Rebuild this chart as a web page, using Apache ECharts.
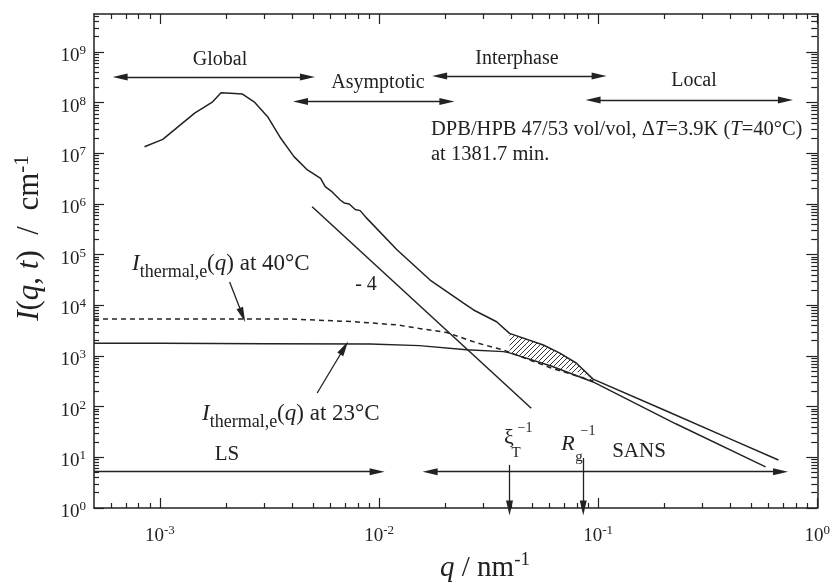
<!DOCTYPE html>
<html>
<head>
<meta charset="utf-8">
<script src="https://cdn.jsdelivr.net/npm/echarts@6/dist/echarts.min.js"></script>
<style>
  html, body { margin: 0; padding: 0; background: #fff; }
  #chart { width: 833px; height: 588px; }
</style>
</head>
<body>
<div id="chart"></div>
<script>
// time-resolved scattering curve (q in nm^-1, I in cm^-1)
const mainQ = [8.5e-4, 1.03e-3, 1.44e-3, 1.74e-3, 1.9e-3, 2.1e-3, 2.38e-3, 2.69e-3, 3.1e-3, 3.56e-3, 4.09e-3, 4.71e-3, 5.41e-3, 5.68e-3, 6.11e-3, 6.65e-3, 6.93e-3, 7.31e-3, 7.78e-3, 8.2e-3, 8.8e-3, 1.21e-2, 1.71e-2, 2.43e-2, 2.7e-2, 3.44e-2, 3.94e-2, 5.62e-2, 6.65e-2, 7.94e-2, 9.48e-2, 0.2, 0.4, 0.665]
const mainI = [1.35e7, 1.89e7, 6.2e7, 1.04e8, 1.57e8, 1.53e8, 1.48e8, 1.04e8, 5.3e7, 1.98e7, 8.6e6, 4.7e6, 3.2e6, 2.2e6, 1.73e6, 1.2e6, 1.05e6, 1.0e6, 7.8e5, 7.4e5, 5.2e5, 1.24e5, 3.16e4, 1.1e4, 8.1e3, 4.75e3, 2.8e3, 1.65e3, 1.15e3, 727, 350, 86, 23.2, 8.85]

// I_thermal,e(q) at 23 C (solid) and 40 C (dashed)
const t23Q = [5e-4, 1e-3, 3e-3, 9.1e-3, 1.53e-2, 2.5e-2, 3.7e-2, 3.94e-2, 6.1e-2, 9.48e-2, 0.226, 0.581]
const t23I = [1.78e3, 1.78e3, 1.75e3, 1.73e3, 1.6e3, 1.33e3, 1.22e3, 1.15e3, 634, 307, 46, 6.45]
const t40Q = [5e-4, 3.82e-3, 7.7e-3, 1.21e-2, 1.53e-2, 2.04e-2, 2.79e-2, 3.7e-2, 6.1e-2, 9.5e-2]
const t40I = [5.4e3, 5.4e3, 4.75e3, 4.1e3, 3.5e3, 2.9e3, 1.82e3, 1.31e3, 580, 321]
const dotQ = [4.71e-2, 5.23e-2, 5.81e-2, 6.44e-2, 7.16e-2, 7.94e-2, 8.81e-2]
const dotI = [834, 728, 634, 553, 483, 422, 368]

// q^-4 guide line
const slopeQ = [4.95e-3, 4.95e-2]
const slopeI = [8.83e5, 93]

// hatched band between the curve and I_thermal(23 C)
const hatchFrom = 3.94e-2
const hatchTo = 9.48e-2

// arrows: start / end points and which ends carry a head
const arrowQ1 = [6.58e-4, 4.38e-3, 1.89e-2, 9.48e-2, 5e-4, 1.71e-2, 3.94e-2, 8.55e-2, 2.08e-3, 5.22e-3]
const arrowI1 = [3.2e8, 1.05e8, 3.36e8, 1.13e8, 5.2, 5.2, 7.1, 9.7, 2.88e4, 186]
const arrowQ2 = [4.71e-3, 2.04e-2, 0.101, 0.716, 9.8e-3, 0.68, 3.94e-2, 8.55e-2, 2.38e-3, 6.93e-3]
const arrowI2 = [3.2e8, 1.05e8, 3.36e8, 1.13e8, 5.2, 5.2, 1, 1, 6.44e3, 1.44e3]
const arrowHeads = ['both', 'both', 'both', 'both', 'end', 'both', 'end', 'end', 'end', 'end']

const xMajor = [-3, -2, -1, 0]
const yMajor = [0, 1, 2, 3, 4, 5, 6, 7, 8, 9]

const lg = v => Math.log10(v)
const pairs = (qs, is) => qs.map((q, i) => [lg(q), lg(is[i])])

const xMin = lg(5e-4)
const yMax = 9.75
const xMinor = []
for (let d = -4; d < 0; d++) {
    for (let k = 2; k <= 9; k++) {
        const v = lg(k) + d
        if (v > xMin + 1e-6 && v < 0) xMinor.push(v)
    }
}
const yMinor = []
for (let d = 0; d < 10; d++) {
    for (let k = 2; k <= 9; k++) {
        const v = lg(k) + d
        if (v < yMax) yMinor.push(v)
    }
}

const FONT = 'Liberation Serif'
const INK = '#222'

// hatch pattern
const pat = document.createElement('canvas')
pat.width = 5
pat.height = 5
const pctx = pat.getContext('2d')
pctx.strokeStyle = '#333'
pctx.lineWidth = 1
pctx.beginPath()
pctx.moveTo(-1, 6); pctx.lineTo(6, -1)
pctx.moveTo(-1, 1); pctx.lineTo(1, -1)
pctx.moveTo(4, 6); pctx.lineTo(6, 4)
pctx.stroke()

const supRich = {
    b: {fontFamily: FONT, fontSize: 19, lineHeight: 24, color: INK},
    s: {fontFamily: FONT, fontSize: 13, lineHeight: 13, verticalAlign: 'top', color: INK}
}

function makeAxis(dim, pos, values, len, labels) {
    const ax = {
        type: 'value',
        position: pos,
        min: dim === 'x' ? xMin : 0,
        max: dim === 'x' ? 0 : yMax,
        axisLine: {show: labels !== null, onZero: false, lineStyle: {color: INK, width: 1.5}},
        axisTick: {show: true, inside: true, length: len, customValues: values, lineStyle: {color: INK, width: 1.2}},
        splitLine: {show: false},
        axisLabel: {show: false}
    }
    if (labels) {
        ax.axisLabel = {
            show: true,
            customValues: values,
            margin: dim === 'x' ? 16 : 8,
            verticalAlign: dim === 'x' ? 'top' : 'middle',
            padding: dim === 'x' ? 0 : [8, 0, 0, 0],
            formatter: v => '{b|10}{s|' + v + '}',
            rich: supRich
        }
    }
    return ax
}

const arrowData = arrowQ1.map((q, i) => [
    {coord: [lg(q), lg(arrowI1[i])], symbol: arrowHeads[i] === 'both' ? 'triangle' : 'none', symbolSize: [7, 15]},
    {coord: [lg(arrowQ2[i]), lg(arrowI2[i])], symbol: 'triangle', symbolSize: [7, 15]}
])

function renderHatch(params, api) {
    const top = pairs(mainQ, mainI).filter((p, i) => mainQ[i] >= hatchFrom && mainQ[i] <= hatchTo)
    const bottom = pairs(t23Q, t23I).filter((p, i) => t23Q[i] >= hatchFrom && t23Q[i] <= hatchTo).reverse()
    const points = top.concat(bottom).map(p => api.coord(p))
    return {
        type: 'polygon',
        shape: {points: points},
        style: {fill: {image: pat, repeat: 'repeat'}, stroke: null}
    }
}

function txt(x, y, text, size, align, rich, rotation) {
    const el = {
        type: 'text',
        x: x,
        y: y,
        style: {
            text: text,
            fontFamily: FONT,
            fontSize: size,
            fill: INK,
            align: align,
            textAlign: align,
            verticalAlign: 'middle',
            textVerticalAlign: 'middle'
        }
    }
    if (rich) el.style.rich = rich
    if (rotation) el.rotation = rotation
    return el
}

const labelRich = {
    i: {fontFamily: FONT, fontSize: 23, fontStyle: 'italic', color: INK},
    n: {fontFamily: FONT, fontSize: 23, color: INK},
    sub: {fontFamily: FONT, fontSize: 18, color: INK, verticalAlign: 'bottom', lineHeight: 35}
}
const titleRich = {
    i: {fontFamily: FONT, fontSize: 29, fontStyle: 'italic', color: INK, lineHeight: 34},
    n: {fontFamily: FONT, fontSize: 29, color: INK, lineHeight: 34},
    sup: {fontFamily: FONT, fontSize: 19, color: INK, verticalAlign: 'top', lineHeight: 19}
}
const yTitleRich = {
    i: {fontFamily: FONT, fontSize: 31, fontStyle: 'italic', color: INK, lineHeight: 36},
    n: {fontFamily: FONT, fontSize: 31, color: INK, lineHeight: 36},
    sup: {fontFamily: FONT, fontSize: 21, color: INK, verticalAlign: 'top', lineHeight: 21}
}
const noteRich = {
    i: {fontFamily: FONT, fontSize: 20.5, fontStyle: 'italic', color: INK},
    n: {fontFamily: FONT, fontSize: 20.5, color: INK}
}
const ital = {
    i: {fontFamily: FONT, fontSize: 22, fontStyle: 'italic', color: INK}
}

const chart = echarts.init(document.getElementById('chart'))
chart.setOption({
    animation: false,
    backgroundColor: '#fff',
    grid: {left: 94, right: 12, top: 14, bottom: 80},
    xAxis: [
        makeAxis('x', 'bottom', xMajor, 10, true),
        makeAxis('x', 'bottom', xMinor, 5, null),
        makeAxis('x', 'top', xMajor, 10, false),
        makeAxis('x', 'top', xMinor, 5, null)
    ],
    yAxis: [
        makeAxis('y', 'left', yMajor, 10, true),
        makeAxis('y', 'left', yMinor, 5, null),
        makeAxis('y', 'right', yMajor, 11, false),
        makeAxis('y', 'right', yMinor, 6, null)
    ],
    series: [
        {
            name: 'I(q,t)', type: 'line', data: pairs(mainQ, mainI),
            showSymbol: false, lineStyle: {color: INK, width: 1.5}
        },
        {
            name: 'thermal 23', type: 'line', data: pairs(t23Q, t23I),
            showSymbol: false, lineStyle: {color: INK, width: 1.4}
        },
        {
            name: 'thermal 40', type: 'line', data: pairs(t40Q, t40I),
            showSymbol: false, lineStyle: {color: INK, width: 1.5, type: [5, 4]}
        },
        {
            name: 'dots', type: 'scatter', data: pairs(dotQ, dotI),
            symbol: 'emptyCircle', symbolSize: 5,
            itemStyle: {color: '#fff', borderColor: INK, borderWidth: 1.2}
        },
        {
            name: 'hatch', type: 'custom', data: [[0, 0]],
            renderItem: renderHatch, z: 1
        },
        {
            name: 'slope', type: 'line', data: pairs(slopeQ, slopeI),
            showSymbol: false, lineStyle: {color: INK, width: 1.5},
            markLine: {
                silent: true,
                animation: false,
                lineStyle: {color: INK, width: 1.3, type: 'solid'},
                label: {show: false},
                data: arrowData
            }
        }
    ],
    graphic: [
        txt(220, 60, 'Global', 20, 'center'),
        txt(378, 83, 'Asymptotic', 20, 'center'),
        txt(517, 59, 'Interphase', 20, 'center'),
        txt(694, 81, 'Local', 20, 'center'),
        txt(227, 454, 'LS', 21, 'center'),
        txt(639, 451, 'SANS', 21, 'center'),
        txt(366, 285, '- 4', 20, 'center'),
        txt(431, 130, '{n|DPB/HPB 47/53 vol/vol, Δ}{i|T}{n|=3.9K (}{i|T}{n|=40°C)}', 20.5, 'left', noteRich),
        txt(431, 155, 'at 1381.7 min.', 20.5, 'left'),
        txt(132, 264, '{i|I}{sub|thermal,e}{n|(}{i|q}{n|) at 40°C}', 20, 'left', labelRich),
        txt(202, 414, '{i|I}{sub|thermal,e}{n|(}{i|q}{n|) at 23°C}', 20, 'left', labelRich),
        txt(509, 438, 'ξ', 22, 'center'),
        txt(516, 453, 'T', 15, 'center'),
        txt(525, 428, '−1', 14, 'center'),
        txt(568, 444, '{i|R}', 22, 'center', ital),
        txt(579, 457, 'g', 15, 'center'),
        txt(588, 431, '−1', 14, 'center'),
        txt(30, 238, '{i|I}{n|(}{i|q}{n|, }{i|t}{n|)  /  cm}{sup|-1}', 31, 'center', yTitleRich, Math.PI / 2),
        txt(485, 568, '{i|q}{n| / nm}{sup|-1}', 29, 'center', titleRich)
    ]
})
</script>
</body>
</html>
